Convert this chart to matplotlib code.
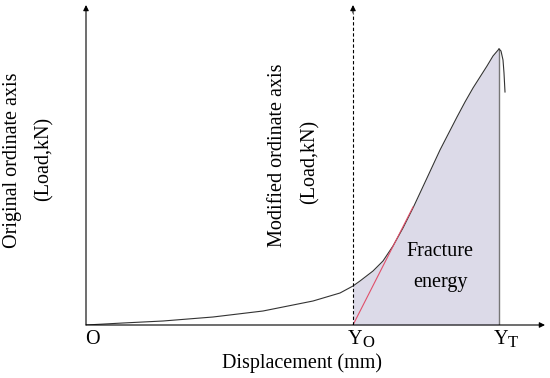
import matplotlib
matplotlib.use("Agg")
import matplotlib.pyplot as plt
import numpy as np

plt.rcParams['font.family'] = ['Liberation Serif', 'DejaVu Serif']

# load-displacement curve (schematic units)
disp = [0, 37, 77, 127, 177, 227, 254, 267, 274, 287, 297, 307, 317, 327, 341, 354, 371, 379, 387, 401, 407, 413]
load = [0, 2, 4, 8, 14, 24, 32, 39, 44, 54, 64, 79, 97, 117, 147, 175, 208, 223, 237, 259, 269, 276]
# post-peak drop
tail_disp = [413, 415, 417, 418, 419]
tail_load = [276, 274, 265, 252, 233]
# tangent line at the start of the linear part
tan_disp = [267, 327]
tan_load = [0, 118]

y_o = 267
y_t = 413
x_max = 459
y_max = 320

fig = plt.figure(figsize=(5.5, 3.78), dpi=100)
ax = fig.add_axes([86/550, 53/378, 459/550, 320/378])
ax.set_xlim(0, x_max)
ax.set_ylim(0, y_max)
ax.axis('off')

disp = np.array(disp)
load = np.array(load)
mask = (disp >= y_o) & (disp <= y_t)
ax.fill_between(disp[mask], 0, load[mask], color='#dcdae8', lw=0)
ax.plot([y_t, y_t], [0, load[-1]], color='#777777', lw=1.0)

ax.plot(disp, load, color='#333333', lw=0.8, solid_joinstyle='round')
ax.plot(tail_disp, tail_load, color='#333333', lw=0.8)
ax.plot(tan_disp, tan_load, color='#e0506a', lw=0.8)

# axes with arrows
arr = dict(arrowstyle='-|>', color='black', lw=0.8, mutation_scale=8, shrinkA=0, shrinkB=0)
ax.annotate('', xy=(x_max, 0), xytext=(0, 0), arrowprops=arr, annotation_clip=False)
ax.annotate('', xy=(0, y_max), xytext=(0, 0), arrowprops=arr, annotation_clip=False)
ax.plot([y_o, y_o], [0, y_max - 8], color='black', lw=0.8, ls=(0, (3, 2)))
ax.annotate('', xy=(y_o, y_max), xytext=(y_o, y_max - 8), arrowprops=arr, annotation_clip=False)

fs = 14.5
sub = 12
ax.text(6, -15, 'O', ha='center', va='center', fontsize=fs, clip_on=False)
ax.text(y_o + 2, -15, 'Y', ha='center', va='center', fontsize=fs, clip_on=False)
ax.text(y_o + 15, -18, 'O', ha='center', va='center', fontsize=sub, clip_on=False)
ax.text(y_t + 2, -15, 'Y', ha='center', va='center', fontsize=fs, clip_on=False)
ax.text(y_t + 14, -18, 'T', ha='center', va='center', fontsize=sub, clip_on=False)
ax.text(216, -38, 'Displacement (mm)', ha='center', va='center', fontsize=fs, clip_on=False)

ax.text(-73, 165, 'Original ordinate axis', rotation=90, ha='center', va='center', fontsize=fs, clip_on=False)
ax.text(-42, 166, '(Load,kN)', rotation=90, ha='center', va='center', fontsize=fs, clip_on=False)
ax.text(192, 170, 'Modified ordinate axis', rotation=90, ha='center', va='center', fontsize=fs)
ax.text(224, 163, '(Load,kN)', rotation=90, ha='center', va='center', fontsize=fs)

ax.text(354, 73, 'Fracture', ha='center', va='center', fontsize=fs)
ax.text(354, 42, 'energy', ha='center', va='center', fontsize=fs)

fig.savefig('out.png', dpi=100)
